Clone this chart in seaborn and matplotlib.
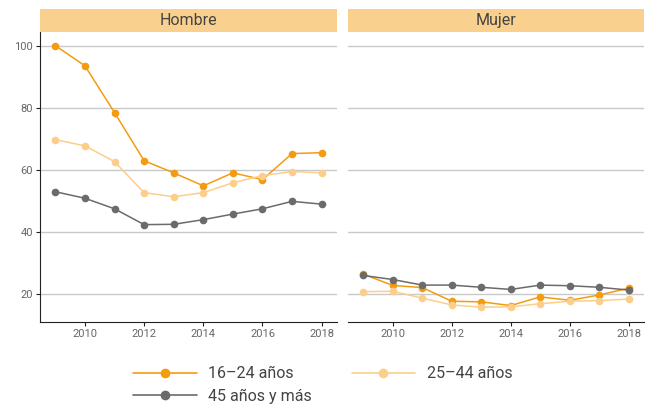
import numpy as np
import pandas as pd
import seaborn as sns
import matplotlib.pyplot as plt
from matplotlib.lines import Line2D

# Data
years = [2009, 2010, 2011, 2012, 2013, 2014, 2015, 2016, 2017, 2018]
groups = ["16–24 años", "25–44 años", "45 años y más"]
panels = ["Hombre", "Mujer"]

hombre_16_24 = [100.0, 93.5, 78.4, 62.9, 59.0, 54.8, 59.0, 56.8, 65.2, 65.5]
hombre_25_44 = [69.7, 67.7, 62.6, 52.6, 51.3, 52.6, 55.8, 58.1, 59.4, 59.0]
hombre_45_mas = [52.9, 50.8, 47.4, 42.3, 42.4, 43.9, 45.7, 47.4, 49.8, 48.9]

mujer_16_24 = [26.3, 22.7, 22.0, 17.6, 17.4, 16.2, 19.0, 17.9, 19.6, 21.8]
mujer_25_44 = [20.7, 20.8, 18.6, 16.4, 15.7, 15.8, 16.8, 17.6, 17.8, 18.3]
mujer_45_mas = [25.9, 24.6, 22.8, 22.8, 22.1, 21.4, 22.8, 22.6, 22.1, 21.2]

colors = {"16–24 años": "#F39C12", "25–44 años": "#FBCF8B", "45 años y más": "#6B6B6B"}
strip_color = "#F9D08D"
grid_color = "#C9C9C9"
text_color = "#666666"

series = {
    "Hombre": [hombre_16_24, hombre_25_44, hombre_45_mas],
    "Mujer": [mujer_16_24, mujer_25_44, mujer_45_mas],
}

rows = []
for panel in panels:
    for grp, vals in zip(groups, series[panel]):
        for yr, v in zip(years, vals):
            rows.append({"panel": panel, "grupo": grp, "anio": yr, "valor": v})
df = pd.DataFrame(rows)

sns.set_style("white")
plt.rcParams["font.family"] = ["Roboto", "DejaVu Sans"]

W, H = 645, 405
fig = plt.figure(figsize=(W / 100, H / 100), dpi=100)

ax_boxes = {"Hombre": (40, 337), "Mujer": (348, 644)}
ax_top, ax_bottom = 31.7, 321.7
strip_top = 9

for panel in panels:
    x0, x1 = ax_boxes[panel]
    ax = fig.add_axes([x0 / W, (H - ax_bottom) / H, (x1 - x0) / W, (ax_bottom - ax_top) / H])
    sub = df[df["panel"] == panel]
    sns.lineplot(data=sub, x="anio", y="valor", hue="grupo", hue_order=groups,
                 palette=colors, marker="o", markersize=5.5, markeredgewidth=0,
                 linewidth=1.1, legend=False, ax=ax)
    ax.set_xlim(2008.48, 2018.52)
    ax.set_ylim(11, 104.5)
    ax.set_yticks([20, 40, 60, 80, 100])
    ax.set_xticks([2010, 2012, 2014, 2016, 2018])
    ax.yaxis.grid(True, color=grid_color, linewidth=1)
    ax.set_axisbelow(True)
    ax.set_xlabel("")
    ax.set_ylabel("")
    for s in ["top", "right"]:
        ax.spines[s].set_visible(False)
    ax.spines["bottom"].set_color("#222222")
    ax.spines["left"].set_color("#222222")
    ax.tick_params(axis="x", length=3, width=0.8, color="#222222", labelsize=8,
                   labelcolor=text_color, pad=2, bottom=True)
    if panel == "Hombre":
        ax.tick_params(axis="y", length=3, width=0.8, color="#222222", labelsize=8,
                       labelcolor=text_color, pad=2, left=True)
    else:
        ax.spines["left"].set_visible(False)
        ax.tick_params(axis="y", left=False, labelleft=False)

    # facet strip
    sax = fig.add_axes([x0 / W, (H - ax_top) / H, (x1 - x0) / W, (ax_top - strip_top) / H])
    sax.set_facecolor(strip_color)
    sax.set_xticks([])
    sax.set_yticks([])
    for s in sax.spines.values():
        s.set_visible(False)
    sax.text(0.5, 0.5, panel, ha="center", va="center", fontsize=11.5,
             color="#444444", transform=sax.transAxes)

# legend ordered so rows read 16–24 | 25–44, then 45+
order = [groups[0], groups[2], groups[1]]
handles = [Line2D([0], [0], color=colors[g], linewidth=1.2, marker="o",
                  markersize=7, markeredgewidth=0) for g in order]
fig.legend(handles, order, loc="center", bbox_to_anchor=(0.5, (H - 385) / H),
           ncol=2, frameon=False, fontsize=11.5, handlelength=4.0,
           columnspacing=2.5, handletextpad=0.7, labelspacing=0.45,
           labelcolor="#444444")

fig.savefig("out.png", dpi=100)
